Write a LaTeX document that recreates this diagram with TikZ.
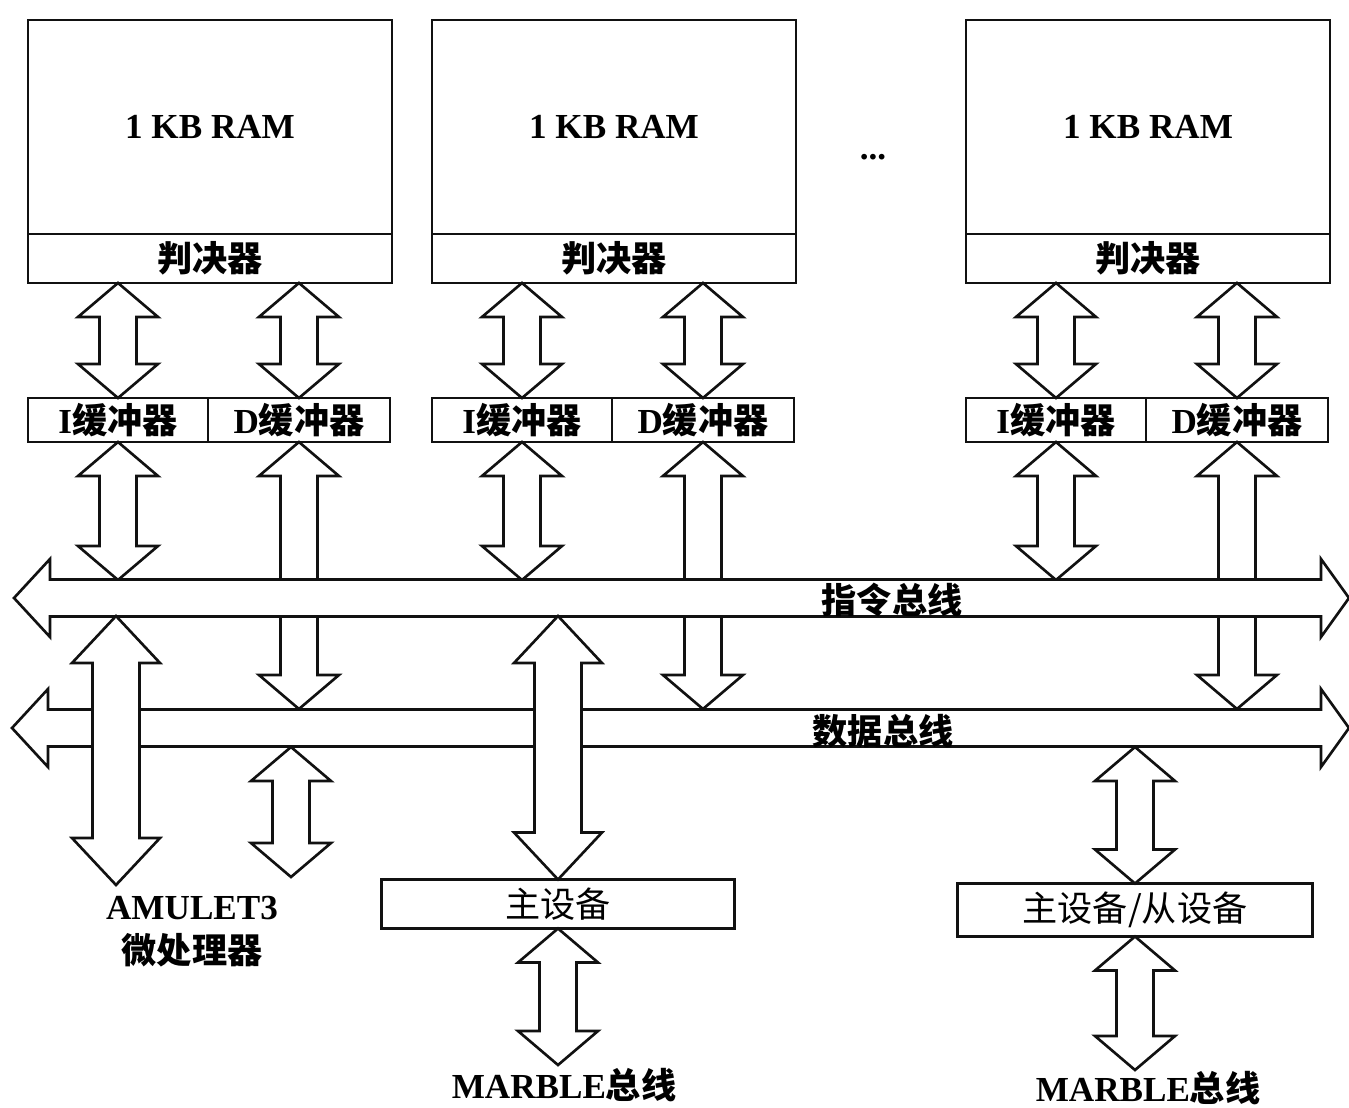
\documentclass[tikz,border=0pt]{standalone}
\usepackage{fontspec}
\setmainfont{Liberation Serif}
\newfontfamily\cjk{Noto Sans CJK SC}
\usepackage{tikz}
\usetikzlibrary{positioning, calc}
\definecolor{kline}{HTML}{111111}
\newcommand{\zh}[1]{{\cjk #1}}
\tikzset{
  rambox/.style={draw=kline, fill=white, line width=1.5pt, minimum width=7.28cm,
                 minimum height=4.28cm, inner sep=0pt, outer sep=0pt,
                 font=\fontsize{20}{22}\selectfont\bfseries},
  arbbox/.style={draw=kline, fill=white, line width=1.5pt, minimum width=7.28cm,
                 minimum height=0.98cm, inner sep=0pt, outer sep=0pt,
                 font=\fontsize{20}{22}\selectfont\bfseries},
  bufbox/.style={draw=kline, fill=white, line width=1.5pt, minimum width=3.6cm,
                 minimum height=0.88cm, inner sep=0pt, outer sep=0pt,
                 font=\fontsize{20}{22}\selectfont\bfseries},
  devbox/.style={draw=kline, fill=white, line width=1.5pt, minimum height=0.98cm,
                 inner sep=0pt, outer sep=0pt, font=\fontsize{20}{22}\selectfont},
  barrow/.style={draw=kline, fill=white, line width=1.5pt, line join=miter},
  lbl/.style={font=\fontsize{20}{25}\selectfont\bfseries, align=center, inner sep=0pt},
}
% vertical double block arrow: #1 upper end, #2 lower end, #3 shaft half, #4 head half, #5 head length
\newcommand{\blockarrow}[5]{%
  \filldraw[barrow] let \p1=#1, \p2=#2 in
    (\x1,\y1) -- (\x1+#4,\y1-#5) -- (\x1+#3,\y1-#5) -- (\x1+#3,\y2+#5)
    -- (\x1+#4,\y2+#5) -- (\x1,\y2) -- (\x1-#4,\y2+#5) -- (\x1-#3,\y2+#5)
    -- (\x1-#3,\y1-#5) -- (\x1-#4,\y1-#5) -- cycle;
}
\newcommand{\dblarrow}[2]{\blockarrow{#1}{#2}{0.37cm}{0.8cm}{0.68cm}}
\newcommand{\widearrow}[2]{\blockarrow{#1}{#2}{0.47cm}{0.88cm}{0.94cm}}
% horizontal bus: #1 west tip, #2 east tip
\newcommand{\busarrow}[2]{%
  \filldraw[barrow] let \p1=#1, \p2=#2 in
    (\x1,\y1) -- (\x1+0.72cm,\y1+0.78cm) -- (\x1+0.72cm,\y1+0.37cm)
    -- (\x2-0.56cm,\y1+0.37cm) -- (\x2-0.56cm,\y1+0.78cm) -- (\x2,\y1)
    -- (\x2-0.56cm,\y1-0.78cm) -- (\x2-0.56cm,\y1-0.37cm)
    -- (\x1+0.72cm,\y1-0.37cm) -- (\x1+0.72cm,\y1-0.78cm) -- cycle;
}

\begin{document}
\begin{tikzpicture}[x=0.02cm, y=-0.02cm]

  \clip (0,0) rectangle (1349,1108);
  \fill[white] (0,0) rectangle (1349,1108);

  % bus edges
  \coordinate (ibusW) at (14,598);
  \coordinate (ibusE) at (1349,598);
  \coordinate (ibusN) at (0,580);
  \coordinate (ibusS) at (0,616);
  \coordinate (dbusW) at (12,728);
  \coordinate (dbusE) at (1349,728);
  \coordinate (dbusN) at (0,709);
  \coordinate (dbusS) at (0,747);

  \foreach \k/\x in {1/210, 2/614, 3/1148}{
    \node[rambox] (ram\k) at (\x,127) {1 KB RAM};
    \node[arbbox, below=0pt of ram\k] (arb\k) {\zh{判决器}};
    \node[bufbox] (ibuf\k) at (\x-92,420) {I\zh{缓冲器}};
    \node[bufbox, right=0pt of ibuf\k, minimum width=3.64cm] (dbuf\k) {D\zh{缓冲器}};
    \dblarrow{(ibuf\k.north |- arb\k.south)}{(ibuf\k.north)}
    \dblarrow{(dbuf\k.north |- arb\k.south)}{(dbuf\k.north)}
    \dblarrow{(ibuf\k.south)}{(ibuf\k.south |- ibusN)}
    \dblarrow{(dbuf\k.south)}{(dbuf\k.south |- dbusN)}
  }
  \node[lbl] (dots) at (873,157) {...};

  \busarrow{(ibusW)}{(ibusE)}
  \node[lbl] (ibuslbl) at (892,600) {\zh{指令总线}};
  \busarrow{(dbusW)}{(dbusE)}
  \node[lbl] (dbuslbl) at (883,731) {\zh{数据总线}};

  % processor side
  \coordinate (cpuI) at (116,885);
  \coordinate (cpuD) at (291,877);
  \widearrow{(cpuI |- ibusS)}{(cpuI)}
  \dblarrow{(cpuD |- dbusS)}{(cpuD)}
  \node[lbl] (cpu) at (192,932) {AMULET3\\\zh{微处理器}};

  % MARBLE interfaces
  \node[devbox, minimum width=7.06cm] (master) at (558,904) {\zh{主设备}};
  \widearrow{(master.north |- ibusS)}{(master.north)}
  \coordinate (marbleA) at (558,1065);
  \dblarrow{(master.south)}{(marbleA)}
  \node[lbl] (marbleAlbl) at (564,1085) {MARBLE\zh{总线}};

  \node[devbox, minimum width=7.1cm, minimum height=1.06cm] (ms) at (1135,910) {\zh{主设备/从设备}};
  \dblarrow{(ms.north |- dbusS)}{(ms.north)}
  \coordinate (marbleB) at (1135,1070);
  \dblarrow{(ms.south)}{(marbleB)}
  \node[lbl] (marbleBlbl) at (1148,1088) {MARBLE\zh{总线}};

\end{tikzpicture}
\end{document}
